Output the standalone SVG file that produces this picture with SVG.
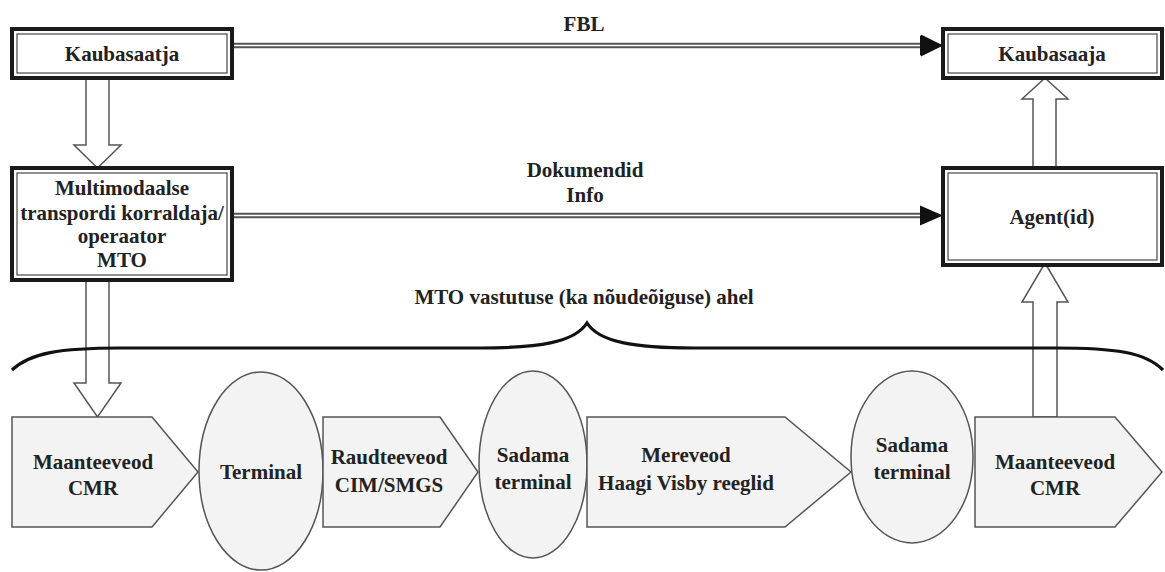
<svg xmlns="http://www.w3.org/2000/svg" width="1165" height="572" viewBox="0 0 1165 572">
<style>
text{font-family:"Liberation Serif","Times New Roman",serif;font-weight:bold;font-size:21px;fill:#222;text-anchor:middle}
.outer{fill:#fff;stroke:#1a1a1a;stroke-width:4}
.inner{fill:none;stroke:#555;stroke-width:1.3}
.dl{stroke:#555;stroke-width:5.5;fill:none}
.dlg{stroke:#fff;stroke-width:1.6;fill:none}
.hollow{fill:#fff;stroke:#555;stroke-width:1.5}
.shape{fill:#f3f3f3;stroke:#555;stroke-width:1.5}
.brace{fill:none;stroke:#111;stroke-width:3.2}
</style>
<defs>
<marker id="ah" markerUnits="userSpaceOnUse" markerWidth="24" markerHeight="22" refX="22" refY="11" orient="auto">
<path d="M0,0 L22,11 L0,22 Z" fill="#111"/>
</marker>
</defs>
<g id="connectors">
<path class="dl" d="M232,45.5 H922"/>
<path class="dlg" d="M232,45.5 H922"/>
<path d="M921,45.5 H943" stroke="none" marker-end="url(#ah)"/>
<path d="M920,35.5 L943,45.5 L920,55.5 Z" fill="#111"/>
<path class="dl" d="M232,215.5 H922"/>
<path class="dlg" d="M232,215.5 H922"/>
<path d="M920,205.5 L943,215.5 L920,225.5 Z" fill="#111"/>
<polygon class="hollow" points="86,78 109,78 109,145 121,145 97.5,168 74,145 86,145"/>
<polygon class="hollow" points="86,280 109,280 109,383 121,383 97.5,417 74,383 86,383"/>
<polygon class="hollow" points="1033,168 1056,168 1056,99 1068,99 1045,78 1022,99 1033,99"/>
<polygon class="hollow" points="1033,417 1057,417 1057,302 1068,302 1045,263 1022,302 1033,302"/>
<path class="brace" d="M12,370 C30,353 60,348 120,348 L480,348 C540,348 575,342 587,323 C599,342 634,348 694,348 L1055,348 C1115,348 1145,352 1163,370"/>
<text x="584" y="31">FBL</text>
<text x="585" y="177">Dokumendid</text>
<text x="585" y="202">Info</text>
<text x="584" y="304">MTO vastutuse (ka nõudeõiguse) ahel</text>
</g>
<g id="kaubasaatja">
<rect class="outer" x="12" y="29" width="220" height="49"/>
<rect class="inner" x="17" y="34" width="210" height="39"/>
<text x="122" y="61">Kaubasaatja</text>
</g>
<g id="mto">
<rect class="outer" x="12" y="168" width="220" height="112"/>
<rect class="inner" x="17" y="173" width="210" height="102"/>
<text x="122" y="195">Multimodaalse</text>
<text x="122" y="220">transpordi korraldaja/</text>
<text x="122" y="243">operaator</text>
<text x="122" y="267">MTO</text>
</g>
<g id="kaubasaaja">
<rect class="outer" x="943" y="29" width="219" height="49"/>
<rect class="inner" x="948" y="34" width="209" height="39"/>
<text x="1052" y="61">Kaubasaaja</text>
</g>
<g id="agent">
<rect class="outer" x="943" y="168" width="219" height="97"/>
<rect class="inner" x="948" y="173" width="209" height="87"/>
<text x="1052" y="224">Agent(id)</text>
</g>
<g id="maanteeveod1">
<polygon class="shape" points="12,417 152,417 198,472 152,527 12,527"/>
<text x="93" y="469">Maanteeveod</text>
<text x="93" y="495">CMR</text>
</g>
<g id="terminal">
<ellipse class="shape" cx="261" cy="471" rx="62" ry="99"/>
<text x="261" y="479">Terminal</text>
</g>
<g id="raudteeveod">
<polygon class="shape" points="323,417 440,417 478,472 440,527 323,527"/>
<text x="389" y="464">Raudteeveod</text>
<text x="389" y="492">CIM/SMGS</text>
</g>
<g id="sadama1">
<ellipse class="shape" cx="533" cy="464.5" rx="54" ry="93.5"/>
<text x="533" y="462">Sadama</text>
<text x="533" y="489">terminal</text>
</g>
<g id="mereveod">
<polygon class="shape" points="587,417 785,417 851,472 785,527 587,527"/>
<text x="686" y="462">Mereveod</text>
<text x="686" y="490">Haagi Visby reeglid</text>
</g>
<g id="sadama2">
<ellipse class="shape" cx="912" cy="457" rx="61" ry="86"/>
<text x="912" y="452">Sadama</text>
<text x="912" y="479">terminal</text>
</g>
<g id="maanteeveod2">
<polygon class="shape" points="975,417 1115,417 1162,472 1115,527 975,527"/>
<text x="1055" y="469">Maanteeveod</text>
<text x="1055" y="495">CMR</text>
</g>
</svg>
